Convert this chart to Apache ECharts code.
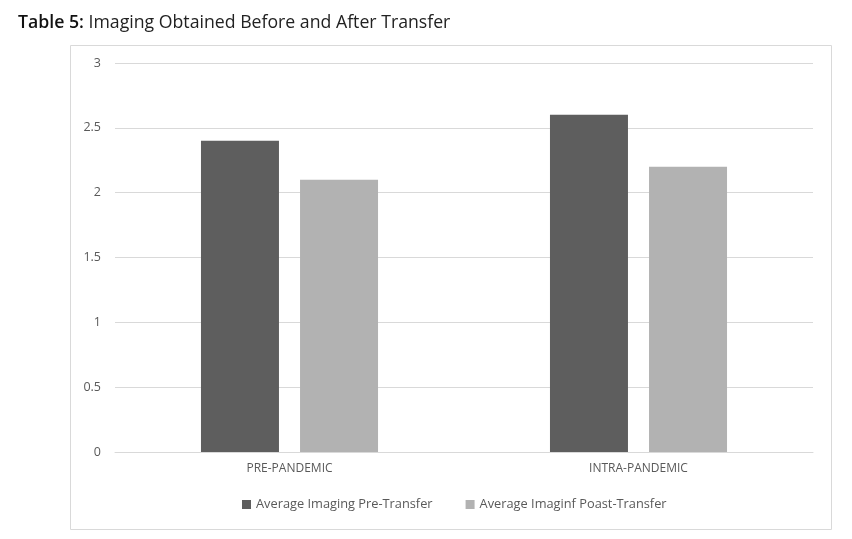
<!DOCTYPE html>
<html><head><meta charset="utf-8">
<script src="https://cdn.jsdelivr.net/npm/echarts@6/dist/echarts.min.js"></script>
<style>html,body{margin:0;padding:0;background:#fff}#c{width:852px;height:539px}</style>
</head><body><div id="c"></div>
<script>
const categories = ['PRE-PANDEMIC', 'INTRA-PANDEMIC'];
const preTransfer = [2.4, 2.6];
const postTransfer = [2.1, 2.2];
const seriesNames = ['Average Imaging Pre-Transfer', 'Average Imaginf Poast-Transfer'];
const yTicks = [0, 0.5, 1, 1.5, 2, 2.5, 3];

const chart = echarts.init(document.getElementById('c'));
const font = '"Open Sans", "Noto Sans", sans-serif';
chart.setOption({
  animation: false,
  textStyle: { fontFamily: font },
  graphic: [
    { type: 'rect', shape: { x: 70.5, y: 45.5, width: 761, height: 484 },
      style: { fill: 'none', stroke: '#d9d9d9', lineWidth: 1 } },
    { type: 'text', left: 18, top: 14,
      style: { text: '{b|Table 5:} Imaging Obtained Before and After Transfer',
        font: '17.7px ' + font, fill: '#222',
        rich: { b: { fontSize: 17.7, fontWeight: 600, fill: '#111', fontFamily: font } } } }
  ],
  grid: { left: 115, right: 39, top: 63, bottom: 87, containLabel: false },
  legend: {
    bottom: 23, left: 237, itemWidth: 9, itemHeight: 9, itemGap: 33,
    icon: 'rect',
    textStyle: { color: '#595959', fontSize: 12.8, fontFamily: font },
    data: seriesNames
  },
  xAxis: {
    type: 'category', data: categories,
    axisLine: { lineStyle: { color: '#d9d9d9' } },
    axisTick: { show: false },
    axisLabel: { color: '#595959', fontSize: 12, margin: 11, fontFamily: font }
  },
  yAxis: {
    type: 'value', min: 0, max: 3, interval: 0.5,
    axisLine: { show: false }, axisTick: { show: false },
    axisLabel: { color: '#595959', fontSize: 12.5, margin: 14, fontFamily: font,
      formatter: v => yTicks.includes(v) ? String(v) : '' },
    splitLine: { lineStyle: { color: '#d9d9d9', width: 1 } }
  },
  series: [
    { name: seriesNames[0], type: 'bar', data: preTransfer, barWidth: 78, barGap: '27%',
      itemStyle: { color: '#5e5e5e' } },
    { name: seriesNames[1], type: 'bar', data: postTransfer, barWidth: 78,
      itemStyle: { color: '#b2b2b2' } }
  ]
});
</script></body></html>
